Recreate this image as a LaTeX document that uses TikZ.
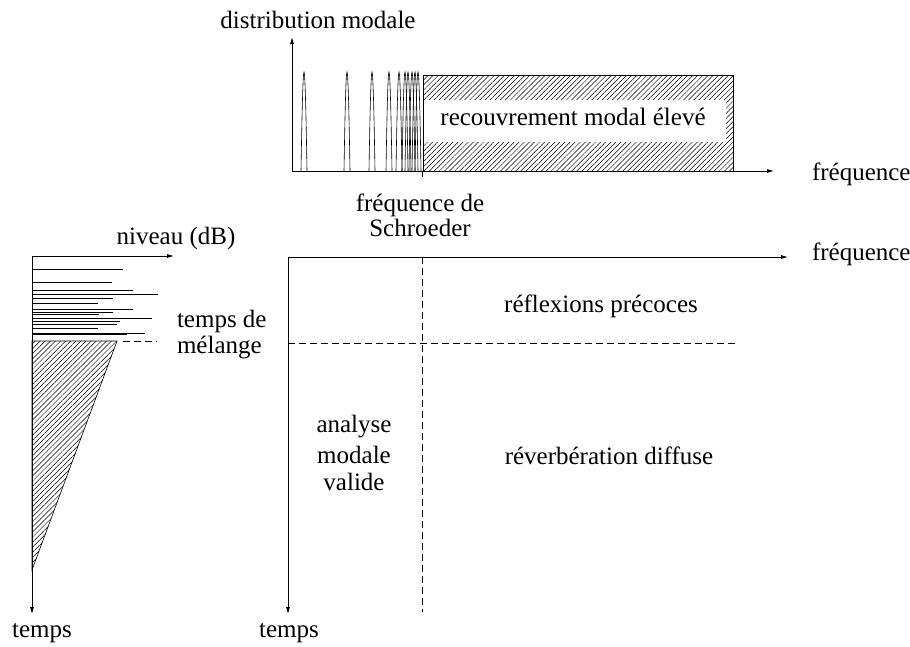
\documentclass[tikz,border=0pt]{standalone}
\usepackage{fontspec}
\setmainfont{Liberation Serif}
\usetikzlibrary{calc,positioning,arrows.meta,patterns.meta}

\tikzset{
  axis/.style={line width=0.8pt,-{Latex[length=7pt,width=4pt]}},
  hatch/.style={pattern={Lines[angle=45,distance=3.6pt,line width=0.5pt]}},
  sep/.style={line width=0.7pt,dash pattern=on 7pt off 4pt},
  lbl/.style={inner sep=0pt,outer sep=0pt,font=\fontsize{25}{26}\selectfont}
}

\begin{document}
\begin{tikzpicture}[x=1pt,y=-1pt]
    \useasboundingbox (0,0) rectangle (910,646);

    % distribution modale
    \coordinate (sp_o) at (292,171);
    \coordinate (sp_y) at (292,37);
    \coordinate (sp_x) at (774,171);
    \draw[axis] (sp_o) -- (sp_y);
    \draw[axis] (sp_o) -- (sp_x);
    \node[lbl, anchor=base] (sp_cap) at (318,28) {distribution modale};
    \node[lbl, anchor=base west] (sp_freq) at (812,180) {fréquence};

    % modes
    \foreach \m in {304,347,372,389,399,405,408,412,415,418}
      \draw[line width=0.6pt] (\m-3,171) .. controls (\m-2,110) and (\m-1,72) .. (\m,72)
        .. controls (\m+1,72) and (\m+2,110) .. (\m+3,171);

    % recouvrement
    \node[draw, hatch, line width=0.5pt, anchor=north west, minimum width=310pt,
      minimum height=96pt] (rec_box) at (423,75) {};
    \node[fill=white, anchor=north west, minimum width=302pt, minimum height=42pt,
      inner sep=0pt] (rec_clear) at ($(rec_box.north west)+(0.5,25)$) {};
    \node[lbl, anchor=base] (rec_txt) at (573,125) {recouvrement modal élevé};

    \coordinate (schr) at (422,171);
    \draw[line width=0.5pt] (schr) -- ++(0,6);
    \node[lbl, anchor=base, align=center] (schr_txt) at (420,236)
      {fréquence de\\[-1pt]Schroeder};

    % plan temps-frequence
    \coordinate (tf_o) at (288,257);
    \coordinate (tf_x) at (788,257);
    \coordinate (tf_y) at (288,614);
    \draw[axis] (tf_o) -- (tf_x);
    \draw[axis] (tf_o) -- (tf_y);
    \node[lbl, anchor=base west] (tf_freq) at (812,260) {fréquence};
    \node[lbl, anchor=base] (tf_temps) at (289,637) {temps};

    \coordinate (v_top) at (422,257);
    \coordinate (v_bot) at (422,612);
    \coordinate (h_left) at (288,343);
    \coordinate (h_right) at (735,343);
    \draw[sep] (v_top) -- (v_bot);
    \draw[sep] (h_left) -- (h_right);

    \node[lbl, anchor=base] (refl) at (601,312) {réflexions précoces};
    \node[lbl, anchor=base] (rev) at (609,464) {réverbération diffuse};
    \node[lbl, anchor=base, align=center] (modal)
      at (354,490) {analyse\\[5pt]modale\\[1pt]valide};

    % echogramme
    \coordinate (ec_o) at (32,256);
    \coordinate (ec_x) at (174,256);
    \coordinate (ec_y) at (32,614);
    \draw[axis] (ec_o) -- (ec_x);
    \draw[axis] (ec_o) -- (ec_y);
    \node[lbl, anchor=base] (ec_niv) at (176,244) {niveau (dB)};
    \node[lbl, anchor=base] (ec_temps) at (42,637) {temps};

    \foreach \y/\l in {269/123,282/112,290/133,294/158,298/113,303/98,309/133,
      312/113,314/99,318/152,321/120,324/117,328/98,333/145,334/127}
      \draw[line width=0.6pt] (32,\y) -- (\l,\y);

    \coordinate (mix_a) at (32,341);
    \coordinate (mix_b) at (117,341);
    \coordinate (mix_c) at (32,570);
    \draw[hatch, line width=0.6pt] (mix_a) -- (mix_b) -- (mix_c) -- cycle;
    \draw[sep, line width=0.5pt] ($(mix_b)+(6,0)$) -- (157,341);
    \node[lbl, anchor=base west, align=left] (mix_txt) at (177,353)
      {temps de\\mélange};
\end{tikzpicture}
\end{document}
